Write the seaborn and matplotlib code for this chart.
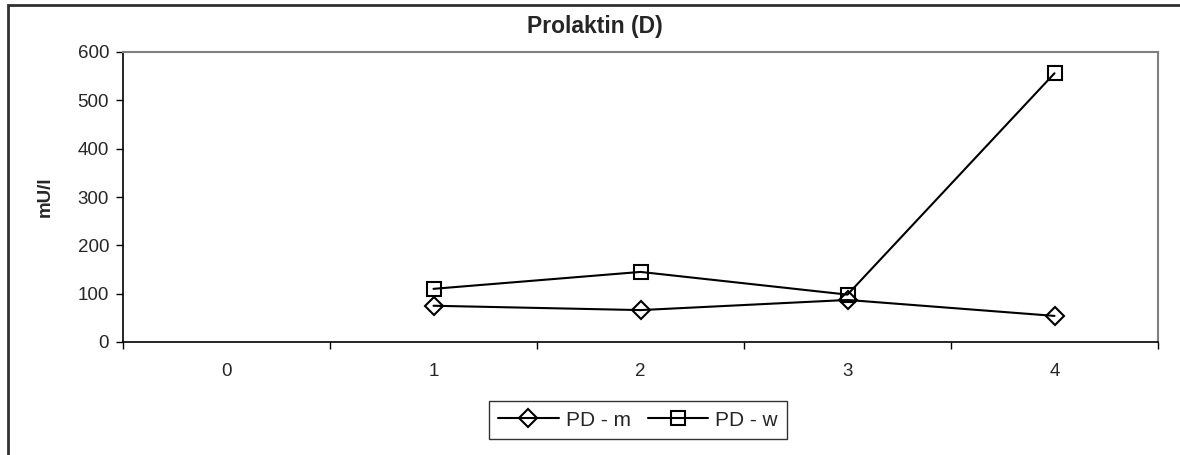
import matplotlib
matplotlib.use("Agg")
import matplotlib.pyplot as plt
import seaborn as sns
import pandas as pd
import numpy as np
from matplotlib.patches import Rectangle

categories = [0, 1, 2, 3, 4]
pd_m = [np.nan, 75, 66, 87, 54]
pd_w = [np.nan, 110, 145, 98, 556]
series_names = ["PD - m", "PD - w"]
yticks = [0, 100, 200, 300, 400, 500, 600]

df = pd.DataFrame({
    "x": categories * 2,
    "y": pd_m + pd_w,
    "series": [series_names[0]] * 5 + [series_names[1]] * 5,
})

sns.set_theme(style="white")
plt.rcParams["font.family"] = ["Liberation Sans", "DejaVu Sans"]

W, H = 1180, 455
fig = plt.figure(figsize=(W / 100, H / 100), dpi=100)
ax = fig.add_axes([123 / W, (H - 342) / H, (1158 - 123) / W, (342 - 52) / H])

sns.lineplot(data=df, x="x", y="y", hue="series", style="series",
             palette={series_names[0]: "black", series_names[1]: "black"},
             markers={series_names[0]: "D", series_names[1]: "s"},
             dashes=False, markersize=10, markerfacecolor="none",
             markeredgecolor="black", markeredgewidth=1.5, linewidth=1.5,
             ax=ax, legend=False)
for ln in ax.lines:
    ln.set_markerfacecolor("none")
ax.lines[0].set_markersize(9)

ax.set_xlim(-0.5, 4.5)
ax.set_ylim(0, 600)
ax.set_yticks(yticks)
ax.set_yticklabels([str(v) for v in yticks], fontsize=13.5)
ax.set_xticks(categories)
ax.set_xticklabels([str(c) for c in categories], fontsize=13.5)
ax.set_xticks(np.arange(-0.5, 5, 1.0), minor=True)
ax.tick_params(axis="x", which="major", length=0, pad=15)
ax.tick_params(axis="x", which="minor", length=5, width=1, color="black", direction="out", bottom=True)
ax.tick_params(axis="y", which="major", length=5, width=1, color="black", direction="out", left=True, pad=5)
ax.set_xlabel("")
ax.set_ylabel("mU/l", fontsize=13.5, fontweight="bold", labelpad=17)
fig.text(595 / W, (H - 27) / H, "Prolaktin (D)", fontsize=16.5, fontweight="bold",
         ha="center", va="center")

for side in ["left", "bottom"]:
    ax.spines[side].set_color("black")
    ax.spines[side].set_linewidth(1.2)
for side in ["top", "right"]:
    ax.spines[side].set_visible(True)
    ax.spines[side].set_color("#808080")
    ax.spines[side].set_linewidth(1.5)
ax.grid(False)

handles = ax.lines[:2]
leg = fig.legend(handles, series_names, loc="center", ncol=2,
                 bbox_to_anchor=(638 / W, (H - 420) / H), fontsize=15,
                 frameon=True, fancybox=False, edgecolor="black",
                 handlelength=2.9, handletextpad=0.35, columnspacing=0.8,
                 borderpad=0.45)
leg.get_frame().set_linewidth(1.0)

fig.patches.append(Rectangle((8 / W, -0.1), 1.2, (H - 5) / H + 0.1,
                             transform=fig.transFigure, fill=False,
                             edgecolor="#303030", linewidth=2))

fig.savefig("out.png", dpi=100)
